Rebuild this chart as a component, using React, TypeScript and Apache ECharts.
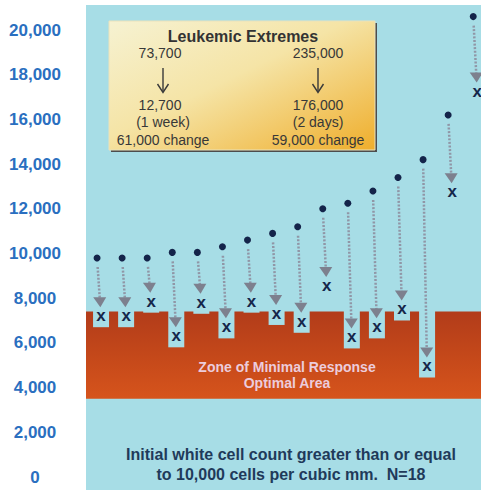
import React, { useEffect, useRef } from 'react';
import * as echarts from 'echarts';

// ---------- data ----------
const patients = [1, 2, 3, 4, 5, 6, 7, 8, 9, 10, 11, 12, 13, 14, 15, 16];
const initialCounts = [9800, 9800, 9800, 10050, 10050, 10300, 10600, 10900, 11200, 12000, 12250, 12800, 13400, 14200, 16200, 20600];
const postCounts = [7150, 7150, 7800, 6250, 7750, 6650, 7800, 7250, 6900, 8500, 6200, 6650, 7450, 4900, 12700, 17200];
const yTicks = [0, 2000, 4000, 6000, 8000, 10000, 12000, 14000, 16000, 18000, 20000];
const zoneRange = [7400, 3500];
const zoneLabels = ['Zone of Minimal Response', 'Optimal Area'];
const footnoteLines = ['Initial white cell count greater than or equal', 'to 10,000 cells per cubic mm.  N=18'];
const extremesTitle = 'Leukemic Extremes';
const extremesBefore = ['73,700', '235,000'];
const extremesAfter = ['12,700', '176,000'];
const extremesSpan = ['(1 week)', '(2 days)'];
const extremesChange = ['61,000 change', '59,000 change'];

const FONT = 'Liberation Sans, Arial, Helvetica, sans-serif';
const BG = '#a7dde6';

function txt(text: string, x: number, y: number, size: number, color: string, weight = 'normal', z = 10) {
  return {
    type: 'text',
    x,
    y,
    z,
    style: {
      text,
      fill: color,
      font: `${weight} ${size}px ${FONT}`,
      align: 'center',
      verticalAlign: 'middle',
      textAlign: 'center',
      textVerticalAlign: 'middle',
    },
  };
}

export default function App() {
  const ref = useRef<HTMLDivElement>(null);

  useEffect(() => {
    if (!ref.current) return;
    const chart = echarts.init(ref.current, undefined, { renderer: 'svg' });

    const markData = patients.map((p, i) => [p, initialCounts[i], postCounts[i]]);

    const colCenters = [163, 318];
    const legendChildren: any[] = [
      { type: 'rect', z: 10, shape: { x: 111, y: 23, width: 266, height: 129 }, style: { fill: '#4d4d4d' } },
      {
        type: 'rect',
        z: 11,
        shape: { x: 109, y: 21, width: 266, height: 129 },
        style: {
          fill: new echarts.graphic.LinearGradient(0, 0, 1, 1, [
            { offset: 0, color: '#f6f2d2' },
            { offset: 0.45, color: '#f5e4a6' },
            { offset: 1, color: '#efae2c' },
          ]),
          stroke: '#e9e2bc',
          lineWidth: 1,
        },
      },
      txt(extremesTitle, 243, 36, 16, '#333333', 'bold', 12),
    ];
    colCenters.forEach((cx, k) => {
      legendChildren.push(txt(extremesBefore[k], cx - (k === 0 ? 3 : 0), 53, 14, '#383838', 'normal', 12));
      legendChildren.push({ type: 'line', z: 12, shape: { x1: cx, y1: 68, x2: cx, y2: 92 }, style: { stroke: '#3a3a3a', lineWidth: 1.4 } });
      legendChildren.push({ type: 'polyline', z: 12, shape: { points: [[cx - 5.5, 84], [cx, 92.5], [cx + 5.5, 84]] }, style: { stroke: '#3a3a3a', lineWidth: 1.4, fill: 'none' } });
      legendChildren.push(txt(extremesAfter[k], cx - (k === 0 ? 3 : 0), 105, 14, '#383838', 'normal', 12));
      legendChildren.push(txt(extremesSpan[k], cx, 122, 14, '#383838', 'normal', 12));
      legendChildren.push(txt(extremesChange[k], cx, 140, 14, '#383838', 'normal', 12));
    });

    const option: any = {
      animation: false,
      textStyle: { fontFamily: FONT },
      grid: { left: 86, right: 0, top: 30, bottom: 13, containLabel: false, outerBoundsMode: 'none' },
      xAxis: { type: 'value', min: 0.5, max: 16.25, show: false },
      yAxis: {
        type: 'value',
        min: yTicks[0],
        max: yTicks[yTicks.length - 1],
        interval: yTicks[1] - yTicks[0],
        axisLine: { show: false },
        axisTick: { show: false },
        splitLine: { show: false },
        axisLabel: {
          color: '#2a6fc0',
          fontWeight: 'bold',
          fontSize: 17,
          fontFamily: FONT,
          align: 'center',
          margin: 51,
          formatter: (v: number) => v.toLocaleString('en-US'),
        },
      },
      graphic: [
        { type: 'rect', z: 0, shape: { x: 86, y: 5, width: 395, height: 485 }, style: { fill: BG } },
        { type: 'group', children: legendChildren },
        txt(zoneLabels[0], 287, 367, 14, '#ecccdc', 'bold', 20),
        txt(zoneLabels[1], 287, 383, 14, '#ecccdc', 'bold', 20),
        txt(footnoteLines[0], 291, 454, 16, '#1f3a5a', 'bold', 20),
        txt(footnoteLines[1], 291, 474, 16, '#1f3a5a', 'bold', 20),
      ],
      series: [
        {
          type: 'custom',
          z: 1,
          silent: true,
          encode: { x: 0, y: [1, 2] },
          data: [[patients[0], zoneRange[0], zoneRange[1]]],
          renderItem: (params: any, api: any) => {
            const cs = params.coordSys;
            const top = api.coord([api.value(0), api.value(1)])[1];
            const bottom = api.coord([api.value(0), api.value(2)])[1];
            return {
              type: 'rect',
              shape: { x: cs.x, y: top, width: cs.width, height: bottom - top },
              style: {
                fill: new echarts.graphic.LinearGradient(0, 0, 0, 1, [
                  { offset: 0, color: '#b23c1a' },
                  { offset: 0.5, color: '#c4481a' },
                  { offset: 1, color: '#d6541c' },
                ]),
              },
            };
          },
        },
        {
          type: 'custom',
          z: 3,
          silent: true,
          clip: false,
          encode: { x: 0, y: [1, 2] },
          data: markData,
          renderItem: (params: any, api: any) => {
            const x = api.value(0);
            const [cx, dy] = api.coord([x, api.value(1)]);
            const my = api.coord([x, api.value(2)])[1];
            const zoneTopY = api.coord([x, zoneRange[0]])[1];
            const dx = cx - 1.5;
            const mx = cx + 2.5;
            const lerp = (yy: number) => dx + ((mx - dx) * (yy - dy)) / (my - dy);
            const tipY = my - 10;
            const headH = 10;
            const lineStart = dy + 9;
            const lineEnd = tipY - headH + 1;
            const children: any[] = [];
            const boxBottom = my + 10;
            if (boxBottom > zoneTopY) {
              children.push({
                type: 'rect',
                shape: { x: mx - 8, y: zoneTopY - 1, width: 16, height: boxBottom - zoneTopY + 1 },
                style: { fill: BG },
              });
            }
            children.push({
              type: 'line',
              shape: { x1: lerp(lineStart), y1: lineStart, x2: lerp(lineEnd), y2: lineEnd },
              style: { stroke: '#9096a6', lineWidth: 2.5, lineDash: [2, 1.6] },
            });
            const hx = lerp(tipY - headH);
            children.push({
              type: 'polygon',
              shape: { points: [[hx - 6.5, tipY - headH], [hx + 6.5, tipY - headH], [lerp(tipY), tipY]] },
              style: { fill: '#7d808e' },
            });
            children.push({ type: 'circle', shape: { cx: dx, cy: dy, r: 3.5 }, style: { fill: '#14244a' } });
            children.push({
              type: 'text',
              x: mx,
              y: my - 1.5,
              style: {
                text: 'x',
                fill: '#15264a',
                font: `bold 17px ${FONT}`,
                align: 'center',
                verticalAlign: 'middle',
              },
            });
            return { type: 'group', children };
          },
        },
      ],
    };

    chart.setOption(option);
    return () => chart.dispose();
  }, []);

  return (
    <div
      ref={ref}
      style={{ position: 'fixed', left: 0, top: 0, width: 481, height: 490, background: '#ffffff' }}
    />
  );
}
